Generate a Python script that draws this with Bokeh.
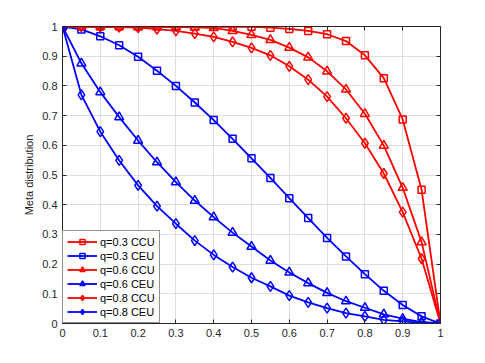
from bokeh.plotting import figure
from bokeh.models import Range1d, FixedTicker, LinearAxis, Legend, LegendItem
from bokeh.embed import file_html
from bokeh.resources import INLINE

x_vals = [0, 0.05, 0.1, 0.15, 0.2, 0.25, 0.3, 0.35, 0.4, 0.45, 0.5,
          0.55, 0.6, 0.65, 0.7, 0.75, 0.8, 0.85, 0.9, 0.95, 1]

ccu_03 = [1, 1, 1, 1, 1, 1, 1, 1, 0.999, 0.999, 0.999, 0.996, 0.992, 0.985,
          0.974, 0.951, 0.903, 0.826, 0.687, 0.450, 0]
ceu_03 = [1, 0.99, 0.967, 0.937, 0.898, 0.851, 0.800, 0.744, 0.685, 0.622,
          0.556, 0.490, 0.422, 0.355, 0.288, 0.226, 0.166, 0.110, 0.062, 0.024, 0]
ccu_06 = [1, 1, 1, 1, 0.999, 0.999, 0.998, 0.997, 0.995, 0.985, 0.972, 0.955,
          0.929, 0.896, 0.849, 0.788, 0.706, 0.599, 0.457, 0.274, 0]
ceu_06 = [1, 0.876, 0.779, 0.695, 0.616, 0.543, 0.476, 0.414, 0.358, 0.306,
          0.259, 0.212, 0.172, 0.136, 0.103, 0.075, 0.053, 0.031, 0.016, 0.005, 0]
ccu_08 = [1, 1, 0.999, 0.998, 0.996, 0.991, 0.985, 0.976, 0.965, 0.948, 0.928,
          0.903, 0.866, 0.821, 0.764, 0.691, 0.607, 0.505, 0.375, 0.218, 0]
ceu_08 = [1, 0.770, 0.646, 0.549, 0.465, 0.395, 0.336, 0.279, 0.231, 0.190,
          0.154, 0.125, 0.094, 0.071, 0.052, 0.035, 0.024, 0.012, 0.007, 0.002, 0]

series = [
    ("q=0.3 CCU", ccu_03, "#ff0000", "square", 7),
    ("q=0.3 CEU", ceu_03, "#0000ff", "square", 7),
    ("q=0.6 CCU", ccu_06, "#ff0000", "triangle", 9),
    ("q=0.6 CEU", ceu_06, "#0000ff", "triangle", 9),
    ("q=0.8 CCU", ccu_08, "#ff0000", "diamond", 10),
    ("q=0.8 CEU", ceu_08, "#0000ff", "diamond", 10),
]

ticks = [0, 0.1, 0.2, 0.3, 0.4, 0.5, 0.6, 0.7, 0.8, 0.9, 1]
FONT = "Liberation Sans"
TXT = "#262626"

p = figure(output_backend="svg", toolbar_location=None,
           frame_width=378, frame_height=297,
           min_border_left=62, min_border_top=26, min_border_right=20,
           min_border_bottom=30,
           x_range=Range1d(0, 1), y_range=Range1d(0, 1),
           background_fill_color="white", border_fill_color="white",
           outline_line_color=TXT, outline_line_width=1)

for ax in (p.xaxis[0], p.yaxis[0]):
    ax.ticker = FixedTicker(ticks=ticks)
    ax.major_tick_in = 4
    ax.major_tick_out = 0
    ax.minor_tick_line_color = None
    ax.axis_line_color = TXT
    ax.major_tick_line_color = TXT
    ax.major_label_text_font = FONT
    ax.major_label_text_font_size = "11px"
    ax.major_label_text_color = TXT
    ax.major_label_standoff = 5

p.xaxis.major_label_overrides = {0: "0", 1: "1"}
p.yaxis.major_label_overrides = {0: "0", 1: "1"}
p.yaxis.axis_label = "Meta distribution"
p.yaxis.axis_label_text_font = FONT
p.yaxis.axis_label_text_font_size = "11px"
p.yaxis.axis_label_text_font_style = "normal"
p.yaxis.axis_label_text_color = TXT
p.yaxis.axis_label_standoff = 4

for loc in ("right", "above"):
    ax = LinearAxis(ticker=FixedTicker(ticks=ticks), major_tick_in=4,
                    major_tick_out=0, minor_tick_line_color=None,
                    axis_line_color=TXT, major_tick_line_color=TXT,
                    major_label_text_color=None, major_label_standoff=0)
    p.add_layout(ax, loc)

p.xgrid.ticker = FixedTicker(ticks=ticks)
p.ygrid.ticker = FixedTicker(ticks=ticks)
p.grid.grid_line_color = "#dedede"
p.grid.grid_line_width = 1

items = []
for label, ys, color, marker, size in series:
    ln = p.line(x_vals, ys, line_color=color, line_width=1.8)
    sc = p.scatter(x_vals, ys, marker=marker, size=size, line_color=color,
                   line_width=1.5, fill_color=None)
    items.append(LegendItem(label=label, renderers=[ln, sc]))

legend = Legend(items=items, location="bottom_left", margin=0,
                border_line_color=TXT, border_line_width=1,
                background_fill_color="white", background_fill_alpha=1,
                label_text_font=FONT, label_text_font_size="11px",
                label_text_color="#000000",
                label_height=13, glyph_height=13, glyph_width=30,
                spacing=1, padding=4, label_standoff=3)
p.add_layout(legend)

open("out.html", "w").write(file_html(p, INLINE))
